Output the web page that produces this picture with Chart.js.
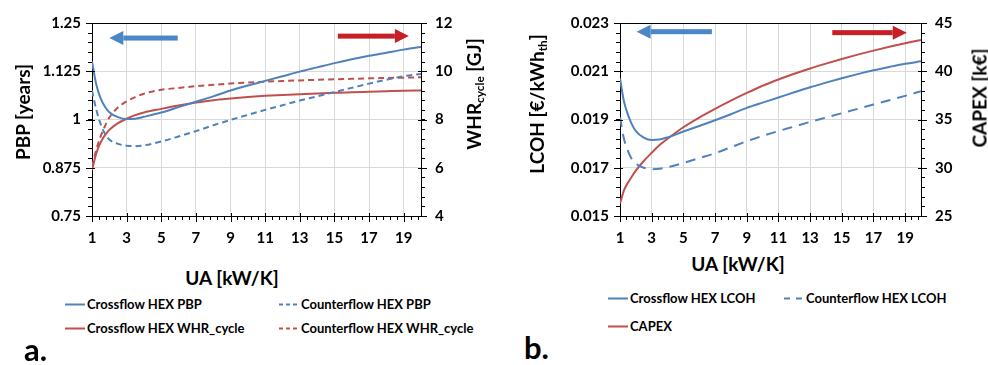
<!DOCTYPE html>
<html>
<head>
<meta charset="utf-8">
<script src="https://cdn.jsdelivr.net/npm/chart.js@4.4.0/dist/chart.umd.min.js"></script>
<style>
  body { margin: 0; background: #fff; }
  #wrap { position: relative; width: 988px; height: 365px; overflow: hidden;
          font-family: Lato, "Open Sans", sans-serif; font-weight: 700; color: #000; }
  canvas { position: absolute; top: 0; }
  .t { position: absolute; white-space: nowrap; line-height: 1; }
  .rot { transform: translate(-50%, -50%) rotate(-90deg); }
  .ctr { transform: translate(-50%, -50%); }
  .ttl { font-size: 19px; }
  .ttl sub { font-size: 0.62em; vertical-align: -0.3em; }
  .leg { font-size: 13px; transform: translateY(-50%); }
  .leg svg { position: absolute; left: -22px; top: 50%; margin-top: -2px; }
  .tag { font-size: 31px; }
</style>
</head>
<body>
<div id="wrap">
  <canvas id="chartA" width="500" height="250" style="left:0"></canvas>
  <canvas id="chartB" width="488" height="250" style="left:500px"></canvas>

  <div class="t ttl rot" style="left:22px; top:112px">PBP [years]</div>
  <div class="t ttl rot" style="left:475px; top:94px">WHR<sub>cycle</sub> [GJ]</div>
  <div class="t ttl ctr" style="left:232px; top:277px">UA [kW/K]</div>

  <div class="t ttl rot" style="left:538px; top:104px">LCOH [€/kWh<sub>th</sub>]</div>
  <div class="t ttl rot" style="left:979px; top:98px">CAPEX [k€]</div>
  <div class="t ttl ctr" style="left:738px; top:263px">UA [kW/K]</div>

  <div class="t leg" style="left:87px; top:304px"><svg width="20" height="4"><line x1="0" y1="2" x2="20" y2="2" stroke="#4f81bd" stroke-width="2"/></svg>Crossflow HEX PBP</div>
  <div class="t leg" style="left:301px; top:304px"><svg width="20" height="4"><line x1="0" y1="2" x2="20" y2="2" stroke="#4f81bd" stroke-width="2" stroke-dasharray="4,3"/></svg>Counterflow HEX PBP</div>
  <div class="t leg" style="left:87px; top:328px"><svg width="20" height="4"><line x1="0" y1="2" x2="20" y2="2" stroke="#c0504d" stroke-width="2"/></svg>Crossflow HEX WHR_cycle</div>
  <div class="t leg" style="left:301px; top:328px"><svg width="20" height="4"><line x1="0" y1="2" x2="20" y2="2" stroke="#c0504d" stroke-width="2" stroke-dasharray="4,3"/></svg>Counterflow HEX WHR_cycle</div>

  <div class="t leg" style="left:630px; top:298px"><svg width="20" height="4"><line x1="0" y1="2" x2="20" y2="2" stroke="#4f81bd" stroke-width="2"/></svg>Crossflow HEX LCOH</div>
  <div class="t leg" style="left:806px; top:298px"><svg width="20" height="4"><line x1="0" y1="2" x2="20" y2="2" stroke="#4f81bd" stroke-width="2" stroke-dasharray="6,6"/></svg>Counterflow HEX LCOH</div>
  <div class="t leg" style="left:630px; top:326px"><svg width="20" height="4"><line x1="0" y1="2" x2="20" y2="2" stroke="#c0504d" stroke-width="2"/></svg>CAPEX</div>

  <div class="t tag" style="left:24px; top:334px">a.</div>
  <div class="t tag" style="left:524px; top:332px">b.</div>
</div>

<script>
"use strict";

// UA [kW/K] sample points (same for every series)
const uaValues = [1, 1.25, 1.5, 1.75, 2, 2.5, 3, 3.5, 4, 5, 6, 7, 8, 9, 10, 11, 12, 13, 14, 15, 16, 17, 18, 19, 20];
const uaTicks = [1, 3, 5, 7, 9, 11, 13, 15, 17, 19];

// panel a: PBP [years] (left axis)
const crossPBP   = [1.150, 1.090, 1.055, 1.033, 1.019, 1.006, 1.001, 1.002, 1.007, 1.018, 1.032, 1.046, 1.060, 1.075, 1.088,
                    1.100, 1.112, 1.124, 1.135, 1.146, 1.156, 1.165, 1.173, 1.181, 1.188];
const counterPBP = [1.075, 1.025, 0.988, 0.963, 0.948, 0.937, 0.932, 0.931, 0.933, 0.943, 0.956, 0.970, 0.985, 0.999, 1.012,
                    1.025, 1.037, 1.049, 1.060, 1.071, 1.082, 1.093, 1.103, 1.112, 1.118];
// panel a: WHR_cycle [GJ] (right axis)
const crossWHR   = [5.90, 6.60, 7.05, 7.35, 7.57, 7.85, 8.03, 8.18, 8.29, 8.44, 8.58, 8.70, 8.80, 8.87, 8.93,
                    8.98, 9.02, 9.05, 9.08, 9.105, 9.13, 9.15, 9.17, 9.19, 9.20];
const counterWHR = [6.05, 6.75, 7.30, 7.73, 8.08, 8.50, 8.75, 8.93, 9.07, 9.23, 9.31, 9.38, 9.44, 9.49, 9.53,
                    9.565, 9.595, 9.62, 9.645, 9.665, 9.685, 9.705, 9.72, 9.735, 9.75];

// panel b: LCOH [€/kWh_th] (left axis)
const crossLCOH   = [0.02070, 0.01975, 0.01920, 0.01880, 0.01852, 0.01825, 0.01815, 0.01817, 0.01826, 0.01850, 0.01873, 0.01897,
                     0.01922, 0.01948, 0.01970, 0.01991, 0.02013, 0.02034, 0.02053, 0.02071, 0.02088, 0.02104, 0.02118, 0.02131, 0.02141];
const counterLCOH = [0.01910, 0.01820, 0.01770, 0.01735, 0.01717, 0.01700, 0.01694, 0.01696, 0.01702, 0.01720, 0.01740, 0.01760,
                     0.01785, 0.01810, 0.01832, 0.01852, 0.01871, 0.01890, 0.01908, 0.01926, 0.01944, 0.01962, 0.01980, 0.01998, 0.02017];
// panel b: CAPEX [k€] (right axis)
const capex = [26.3, 27.65, 28.45, 29.1, 29.7, 30.7, 31.55, 32.35, 33.0, 34.2, 35.2, 36.1, 36.95, 37.75, 38.5,
               39.15, 39.74, 40.29, 40.79, 41.27, 41.72, 42.14, 42.54, 42.91, 43.25];

const BLUE = "#4f81bd";
const RED = "#c0504d";
const FONT = "Lato, 'Open Sans', sans-serif";

function pts(ys) {
  return uaValues.map(function (x, i) { return { x: x, y: ys[i] }; });
}

function series(label, ys, color, axis, dash) {
  return {
    label: label,
    data: pts(ys),
    yAxisID: axis,
    borderColor: color,
    borderWidth: 2,
    borderDash: dash || [],
    pointRadius: 0,
    fill: false,
    cubicInterpolationMode: "monotone"
  };
}

// black frame on top, major/minor tick marks, and the direction arrows
const decorations = {
  id: "decorations",
  afterDraw(chart, args, opts) {
    const ctx = chart.ctx;
    const a = chart.chartArea;
    const px = function (v) { return Math.round(v) + 0.5; };
    ctx.save();
    ctx.strokeStyle = "#000";
    ctx.lineWidth = 1;
    ctx.beginPath();
    ctx.moveTo(a.left, px(a.top));
    ctx.lineTo(a.right, px(a.top));

    opts.minor.forEach(function (m) {
      const s = chart.scales[m.id];
      for (let v = s.min; v <= s.max + 1e-9; v += m.step) {
        const p = px(s.getPixelForValue(v));
        if (m.id === "x") { ctx.moveTo(p, a.bottom); ctx.lineTo(p, a.bottom + 4); }
        else if (m.id === "y") { ctx.moveTo(a.left - 4, p); ctx.lineTo(a.left, p); }
        else { ctx.moveTo(a.right, p); ctx.lineTo(a.right + 4, p); }
      }
      s.ticks.forEach(function (t) {
        const p = px(s.getPixelForValue(t.value));
        if (m.id === "x") { ctx.moveTo(p, a.bottom - 3); ctx.lineTo(p, a.bottom + 6); }
        else if (m.id === "y") { ctx.moveTo(a.left - 6, p); ctx.lineTo(a.left + 3, p); }
        else { ctx.moveTo(a.right - 3, p); ctx.lineTo(a.right + 6, p); }
      });
    });
    ctx.stroke();

    const sx = chart.scales.x, sy = chart.scales.y;
    opts.arrows.forEach(function (ar) {
      const x1 = sx.getPixelForValue(ar.from);
      const x2 = sx.getPixelForValue(ar.to);
      const y = sy.getPixelForValue(ar.y);
      const dir = x2 > x1 ? 1 : -1;
      const head = 14;
      ctx.fillStyle = ar.color;
      ctx.fillRect(Math.min(x1, x2 - dir * head), y - 2.5, Math.abs(x2 - x1) - head, 5);
      ctx.beginPath();
      ctx.moveTo(x2, y);
      ctx.lineTo(x2 - dir * head, y - 7);
      ctx.lineTo(x2 - dir * head, y + 7);
      ctx.closePath();
      ctx.fill();
    });
    ctx.restore();
  }
};

function makeChart(id, datasets, s) {
  const tickFont = { family: FONT, size: 15, weight: "bold" };
  return new Chart(document.getElementById(id), {
    type: "line",
    data: { datasets: datasets },
    options: {
      responsive: false,
      animation: false,
      devicePixelRatio: 1,
      layout: { padding: { top: s.top, left: 0, right: 0, bottom: 0 } },
      scales: {
        x: {
          type: "linear", min: 1, max: 20,
          afterBuildTicks: function (sc) { sc.ticks = uaTicks.map(function (v) { return { value: v }; }); },
          afterFit: function (sc) { sc.height = s.xHeight; },
          grid: { color: "#d9d9d9", drawTicks: false },
          border: { color: "#000", width: 1 },
          ticks: { color: "#000", font: tickFont, padding: 13, maxRotation: 0 }
        },
        y: {
          position: "left", min: s.yMin, max: s.yMax,
          ticks: { stepSize: s.yStep, color: "#000", font: tickFont, padding: 11,
                   callback: function (v) { return String(+v.toFixed(3)); } },
          afterFit: function (sc) { sc.width = s.leftWidth; },
          grid: { color: "#d9d9d9", drawTicks: false },
          border: { color: "#000", width: 1 }
        },
        y1: {
          position: "right", min: s.y1Min, max: s.y1Max,
          ticks: { stepSize: s.y1Step, color: "#000", font: tickFont, padding: 14 },
          afterFit: function (sc) { sc.width = s.rightWidth; },
          grid: { display: false, drawTicks: false },
          border: { color: "#000", width: 1 }
        }
      },
      plugins: {
        legend: { display: false },
        tooltip: { enabled: false },
        decorations: {
          minor: [
            { id: "x", step: 0.4 },
            { id: "y", step: s.yStep / 5 },
            { id: "y1", step: s.y1Step / 5 }
          ],
          arrows: s.arrows
        }
      }
    },
    plugins: [decorations]
  });
}

makeChart("chartA", [
  series("Crossflow HEX PBP", crossPBP, BLUE, "y"),
  series("Counterflow HEX PBP", counterPBP, BLUE, "y", [6, 4]),
  series("Crossflow HEX WHR_cycle", crossWHR, RED, "y1"),
  series("Counterflow HEX WHR_cycle", counterWHR, RED, "y1", [6, 4])
], {
  top: 13, xHeight: 34, leftWidth: 92, rightWidth: 79,
  yMin: 0.75, yMax: 1.25, yStep: 0.125, y1Min: 4, y1Max: 12, y1Step: 2,
  arrows: [
    { from: 5.95, to: 2.0, y: 1.211, color: "#4a86c8" },
    { from: 15.2, to: 19.3, y: 1.216, color: "#c42026" }
  ]
});

makeChart("chartB", [
  series("Crossflow HEX LCOH", crossLCOH, BLUE, "y"),
  series("Counterflow HEX LCOH", counterLCOH, BLUE, "y", [10, 7]),
  series("CAPEX", capex, RED, "y1")
], {
  top: 15, xHeight: 34, leftWidth: 120, rightWidth: 67,
  yMin: 0.015, yMax: 0.023, yStep: 0.002, y1Min: 25, y1Max: 45, y1Step: 5,
  arrows: [
    { from: 6.8, to: 2.05, y: 0.02264, color: "#4a86c8" },
    { from: 14.4, to: 19.1, y: 0.0226, color: "#c42026" }
  ]
});
</script>
</body>
</html>
